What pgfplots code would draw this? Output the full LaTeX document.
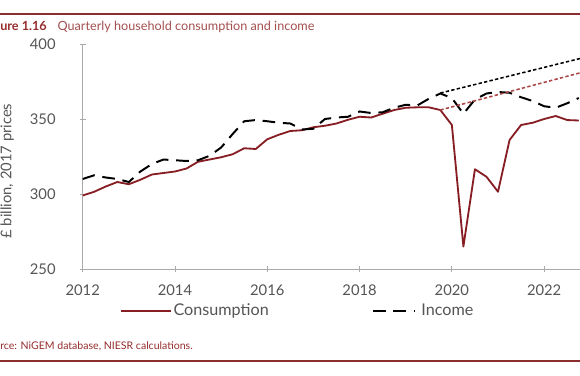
\documentclass[border=0pt]{standalone}
\usepackage{fontspec}
\setmainfont{Lato}
\usepackage{pgfplots}
\pgfplotsset{compat=1.18}
\usepackage{pgfplotstable}
\definecolor{cons}{RGB}{135,30,35}
\definecolor{trendred}{RGB}{170,70,70}
\definecolor{ruler}{RGB}{140,45,45}
\definecolor{titlered}{RGB}{150,45,45}
\definecolor{titlelt}{RGB}{165,80,80}
\definecolor{axgray}{RGB}{170,170,170}
\definecolor{tickgray}{RGB}{85,85,85}

\pgfplotsset{
  consleg/.style={legend image code/.code={\draw[cons, line width=1.3pt] (0cm,0cm) -- (1.25cm,0cm);}},
  incleg/.style={legend image code/.code={\draw[black, line width=1.3pt, dash pattern=on 9pt off 5.5pt] (0cm,0cm) -- (1.05cm,0cm);}},
}

\pgfplotstableread{
year value
2012.00 299
2012.25 301.5
2012.50 305
2012.75 308
2013.00 306.5
2013.25 309.5
2013.50 313
2013.75 314
2014.00 315
2014.25 317
2014.50 321.5
2014.75 323
2015.00 324.5
2015.25 326.5
2015.50 330.5
2015.75 330
2016.00 336.5
2016.25 339.5
2016.50 342
2016.75 342.5
2017.00 344.5
2017.25 345.5
2017.50 347
2017.75 349.5
2018.00 351.5
2018.25 351
2018.50 353.5
2018.75 356
2019.00 357.5
2019.25 357.8
2019.50 357.8
2019.75 356
2020.00 346
2020.25 265
2020.50 316.5
2020.75 311.5
2021.00 301.5
2021.25 336
2021.50 346
2021.75 347.5
2022.00 350
2022.25 352
2022.50 349.3
2022.75 349
}\consumption

\pgfplotstableread{
year value
2012.00 310
2012.25 312.5
2012.50 311
2012.75 310
2013.00 308
2013.25 315
2013.50 320
2013.75 323
2014.00 322.5
2014.25 322
2014.50 322.5
2014.75 325.5
2015.00 331
2015.25 340
2015.50 348.5
2015.75 349.3
2016.00 348.5
2016.25 347.5
2016.50 347
2016.75 343
2017.00 343.5
2017.25 350
2017.50 351
2017.75 351.5
2018.00 355
2018.25 354
2018.50 354.5
2018.75 357.5
2019.00 359.5
2019.25 359
2019.50 363.5
2019.75 367
2020.00 364
2020.25 353.5
2020.50 363
2020.75 367
2021.00 368
2021.25 367.5
2021.50 364.5
2021.75 362
2022.00 358.5
2022.25 357.5
2022.50 360.5
2022.75 364
}\income

\begin{document}
\begin{tikzpicture}
\useasboundingbox (0,0) rectangle (14.5cm,9.375cm);
\clip (0,0) rectangle (14.5cm,9.375cm);
\fill[white] (0,0) rectangle (14.5cm,9.375cm);
\draw[ruler, line width=1.8pt] (0,9.025cm) -- (14.5cm,9.025cm);
\draw[ruler, line width=1.8pt] (0,0.35cm) -- (14.5cm,0.35cm);
\node[anchor=base west, inner sep=0pt, font=\fontsize{9}{11}\selectfont] at (0,8.62cm)
  {\textcolor{titlered}{\bfseries\llap{Fig}ure 1.16}\hspace{0.27cm}\textcolor{titlelt}{Quarterly household consumption and income}};
\node[anchor=base west, inner sep=0pt, font=\fontsize{7.5}{9}\selectfont, text=titlered] at (0,0.65cm)
  {\llap{Sou}rce: NiGEM database, NIESR calculations.};
\node[rotate=90, inner sep=0pt, font=\fontsize{10.5}{12}\selectfont, text=tickgray] at (0.18cm,5.1cm)
  {£ billion, 2017 prices};
\begin{axis}[
  at={(2.0675cm,2.65cm)}, anchor=south west,
  scale only axis, width=12.69cm, height=5.625cm,
  xmin=2012, xmax=2023, ymin=250, ymax=400,
  axis x line*=bottom, axis y line*=left,
  axis line style={axgray, line width=0.7pt, -},
  xtick={2012,2014,2016,2018,2020,2022},
  ytick={250,300,350,400},
  tick style={axgray, line width=0.6pt},
  major tick length=4pt, tick align=center,
  /pgf/number format/1000 sep={},
  /pgf/number format/assume math mode=true,
  ticklabel style={font=\fontsize{10.5}{12}\selectfont, text=tickgray, inner sep=0pt},
  yticklabel style={anchor=east, xshift=-0.6cm},
  xticklabel style={anchor=north, yshift=-0.32cm},
  legend columns=2,
  legend style={at={(0.0735,-0.185)}, anchor=west, draw=none, fill=none,
    inner sep=0pt, font=\fontsize{11.5}{13}\selectfont, text=tickgray,
    nodes={inner sep=1pt}},
]
\addplot[cons, line width=1.3pt, line join=round, consleg]
  table[x=year, y=value] {\consumption};
\addlegendentry{Consumption\rule{2.55cm}{0pt}}
\addplot[black, line width=1.4pt, dash pattern=on 9pt off 5.5pt, incleg]
  table[x=year, y=value] {\income};
\addlegendentry{\hspace{0.1cm}Income}
\addplot[black, line width=1.1pt, dash pattern=on 2.4pt off 1.6pt, forget plot]
  coordinates {(2019.75,367.3) (2023,392)};
\addplot[trendred, line width=1.1pt, dash pattern=on 2.4pt off 1.6pt, forget plot]
  coordinates {(2019.75,356) (2023,382.6)};
\end{axis}
\end{tikzpicture}
\end{document}
